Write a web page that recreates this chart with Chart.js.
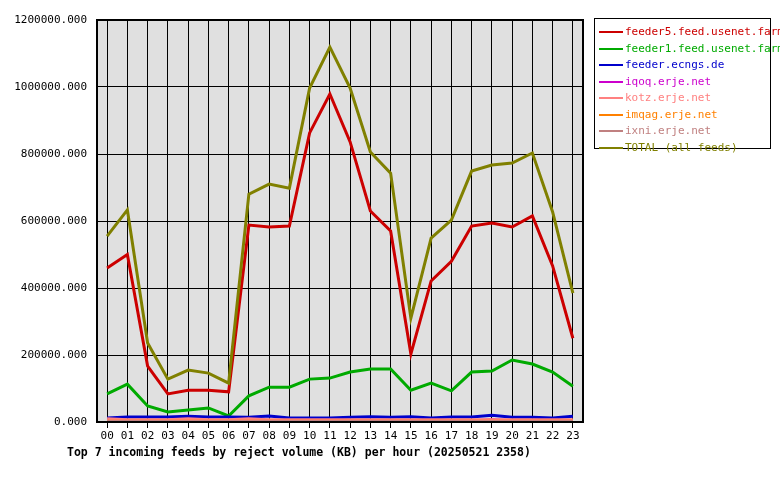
<!DOCTYPE html>
<html><head><meta charset="utf-8">
<script src="https://cdn.jsdelivr.net/npm/chart.js@4/dist/chart.umd.min.js"></script>
<style>
body{margin:0;background:#fff;font-family:"DejaVu Sans Mono",monospace;}
#wrap{position:relative;width:780px;height:480px;}
#legend{position:absolute;left:594px;top:18px;width:177px;height:131px;border:1px solid #000;font-size:11px;box-sizing:border-box;padding-top:5px;}
#legend div{height:16.5px;line-height:16.5px;white-space:nowrap;}
#legend span.l{display:inline-block;width:24px;height:2px;vertical-align:middle;margin:0 2px 0 4px;position:relative;}
#title{position:absolute;left:67px;top:445px;font-size:11.5px;font-weight:bold;}
</style></head><body>
<div id="wrap"><canvas id="c" width="780" height="480"></canvas><div id="legend"></div>
<div id="title">Top 7 incoming feeds by reject volume (KB) per hour (20250521 2358)</div></div>
<script>
const hours=["00","01","02","03","04","05","06","07","08","09","10","11","12","13","14","15","16","17","18","19","20","21","22","23"];
const feeder5=[460000,500000,167000,84000,95000,95000,90000,588000,582000,585000,863000,979000,836000,630000,570000,203000,421000,480000,585000,594000,582000,615000,466000,250000];
const feeder1=[84000,113000,48000,30000,36000,42000,18000,78000,104000,104000,128000,131000,149000,158000,158000,95000,116000,93000,149000,152000,185000,173000,149000,107000];
const ecngs=[12000,15000,15000,15000,17000,15000,15000,14000,18000,12000,12000,12000,14000,16000,14000,16000,12000,15000,15000,20000,14000,14000,12000,17000];
const iqoq=[5000,5000,5000,5000,5000,5000,5000,5000,5000,5000,5000,5000,5000,5000,5000,5000,5000,5000,5000,8000,5000,5000,5000,5000];
const kotz=[10000,7000,7000,7000,10000,7000,7000,10000,7000,7000,7000,7000,7000,7000,7000,7000,7000,7000,7000,7000,7000,7000,7000,7000];
const imqag=[4000,4000,4000,4000,4000,4000,4000,4000,4000,4000,4000,4000,4000,4000,4000,4000,4000,4000,4000,4000,4000,4000,4000,4000];
const ixni=[3000,3000,3000,3000,3000,3000,3000,3000,3000,3000,3000,3000,3000,3000,3000,3000,3000,3000,3000,3000,3000,3000,3000,3000];
const total=[555000,633000,236000,128000,155000,146000,116000,680000,710000,698000,997000,1119000,997000,806000,743000,310000,549000,603000,749000,767000,773000,803000,627000,385000];
const names=["feeder5.feed.usenet.farm","feeder1.feed.usenet.farm","feeder.ecngs.de","iqoq.erje.net","kotz.erje.net","imqag.erje.net","ixni.erje.net","TOTAL (all feeds)"];
const colors=["#cc0000","#00aa00","#0000cc","#cc00cc","#ff8080","#ff8000","#c08080","#808000"];
const series=[feeder5,feeder1,ecngs,iqoq,kotz,imqag,ixni,total];
const widths=[3,3,3,2,3,2,2,3];
const order=[7,6,5,4,3,2,1,0];
const lg=document.getElementById('legend');
names.forEach((n,i)=>{const d=document.createElement('div');d.style.color=colors[i];d.innerHTML='<span class="l" style="background:'+colors[i]+'"></span>'+n;lg.appendChild(d);});
const bg={id:'bg',beforeDraw(ch){const a=ch.chartArea,c=ch.ctx;c.save();c.fillStyle='#e0e0e0';c.fillRect(a.left,a.top,a.right-a.left,a.bottom-a.top);c.restore();},
afterDatasetsDraw(ch){const a=ch.chartArea,c=ch.ctx;c.save();c.strokeStyle='#000';c.lineWidth=2;c.strokeRect(a.left,a.top,a.right-a.left,a.bottom-a.top);c.restore();}};
new Chart(document.getElementById('c'),{type:'line',
data:{labels:hours,datasets:series.map((s,i)=>({label:names[i],data:s,borderColor:colors[i],backgroundColor:colors[i],borderWidth:widths[i],pointRadius:0,tension:0,order:order[i]}))},
options:{responsive:false,animation:false,layout:{padding:{top:20,right:197,left:0,bottom:0}},
plugins:{legend:{display:false},tooltip:{enabled:false}},
scales:{x:{offset:true,grid:{offset:false,color:'#000',lineWidth:1,tickLength:6,drawTicks:true},border:{color:'#000',width:2},
ticks:{color:'#000',font:{family:'DejaVu Sans Mono',size:11},maxRotation:0,autoSkip:false,padding:2},afterFit(s){s.height=58;}},
y:{min:0,max:1200000,grid:{color:'#000',lineWidth:1,drawTicks:false},border:{color:'#000',width:2},
ticks:{stepSize:200000,color:'#000',font:{family:'DejaVu Sans Mono',size:11},padding:10,callback:v=>v.toFixed(3)},afterFit(s){s.width=97;}}}},
plugins:[bg]});
</script></body></html>
